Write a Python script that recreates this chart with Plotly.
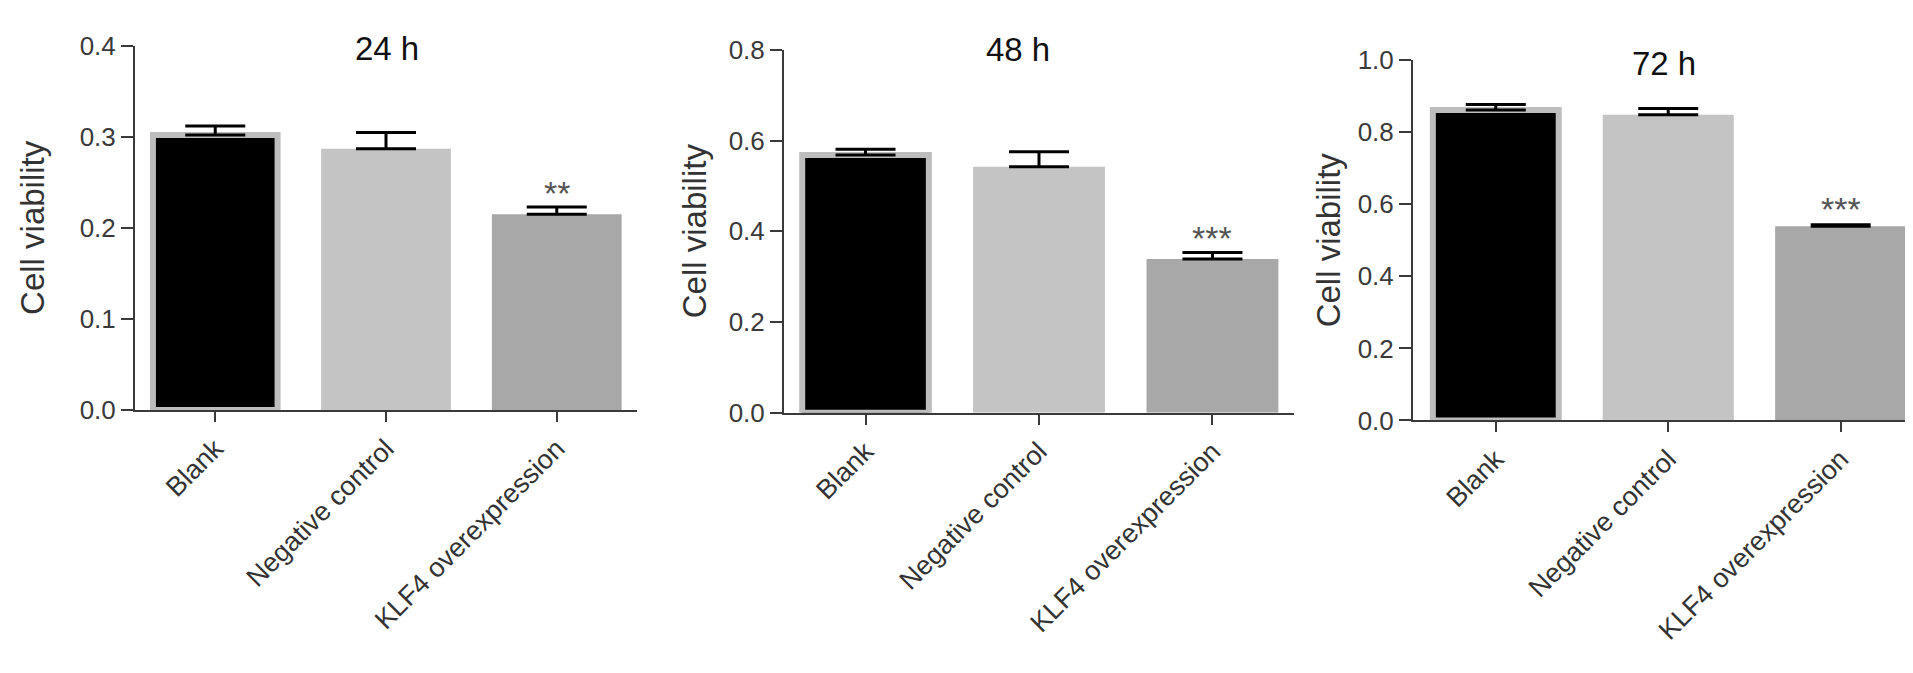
import plotly.graph_objects as go
from plotly.subplots import make_subplots

W, H = 1913, 673

groups = ['Blank', 'Negative control', 'KLF4 overexpression']
bar_colors = ['#000000', '#c4c4c4', '#a8a8a8']

times = ['24 h', '48 h', '72 h']
means_24 = [0.302, 0.287, 0.215]
caps_24 = [0.312, 0.305, 0.223]
means_48 = [0.568, 0.542, 0.339]
caps_48 = [0.581, 0.575, 0.353]
means_72 = [0.862, 0.849, 0.539]
caps_72 = [0.877, 0.866, 0.543]
stars = ['**', '***', '***']
y_max = [0.4, 0.8, 1.0]
y_step = [0.1, 0.2, 0.2]

FONT = 'Arial, Liberation Sans, sans-serif'
AX = '#3a3a3a'

# pixel boxes of the three plot areas: (left, right, top, bottom)
boxes = [(127, 629, 24, 405), (776, 1286, 28, 408), (1405, 1912, 39, 416)]
x_ranges = [[-0.47, 2.47], [-0.47, 2.47], [-0.48, 2.46]]
title_x = [379, 1010, 1656]
title_y = [27, 28, 42]
ylab_x = [25, 686, 1320]
star_y = [0.238, 0.385, 0.586]

series = [(means_24, caps_24), (means_48, caps_48), (means_72, caps_72)]

fig = make_subplots(rows=1, cols=3)
annotations = []
for i, (means, caps) in enumerate(series):
    err = [c - m for c, m in zip(caps, means)]
    fig.add_trace(go.Bar(
        x=[0, 1, 2], y=means, width=[0.73, 0.76, 0.76],
        marker=dict(color=bar_colors,
                    line=dict(color=['#bdbdbd', '#c4c4c4', '#a8a8a8'], width=[6, 0, 0])),
        error_y=dict(type='data', symmetric=False, array=err, arrayminus=[0, 0, 0],
                     color='#000000', thickness=3, width=30),
        showlegend=False,
    ), row=1, col=i + 1)

    l, r, t, b = boxes[i]
    xa = 'xaxis' if i == 0 else f'xaxis{i + 1}'
    ya = 'yaxis' if i == 0 else f'yaxis{i + 1}'
    fig.layout[xa].update(
        domain=[l / W, r / W], range=x_ranges[i], tickmode='array',
        tickvals=[0, 1, 2], ticktext=groups, tickangle=-45,
        showline=True, linecolor=AX, linewidth=2, ticks='outside', ticklen=10,
        tickwidth=2, tickcolor=AX, showgrid=False, zeroline=False,
        tickfont=dict(family=FONT, size=27, color='#333333'),
    )
    fig.layout[ya].update(
        domain=[1 - b / H, 1 - t / H], range=[0, y_max[i]], dtick=y_step[i],
        tick0=0, tickformat='.1f', showline=True, linecolor=AX, linewidth=2,
        ticks='outside', ticklen=12, tickwidth=2, tickcolor=AX, showgrid=False,
        zeroline=False, tickfont=dict(family=FONT, size=26, color='#3a3a3a'),
    )

    annotations.append(dict(text=times[i], x=title_x[i] / W, y=1 - title_y[i] / H,
                            xref='paper', yref='paper', showarrow=False,
                            xanchor='center', yanchor='middle',
                            font=dict(family=FONT, size=33, color='#111111')))
    annotations.append(dict(text='Cell viability', x=ylab_x[i] / W, y=1 - (t + b) / 2 / H,
                            xref='paper', yref='paper', showarrow=False, textangle=-90,
                            xanchor='center', yanchor='middle',
                            font=dict(family=FONT, size=33, color='#333333')))
    annotations.append(dict(text=stars[i], x=2, y=star_y[i],
                            xref='x' if i == 0 else f'x{i + 1}',
                            yref='y' if i == 0 else f'y{i + 1}',
                            showarrow=False, xanchor='center', yanchor='middle',
                            font=dict(family=FONT, size=34, color='#555555')))

fig.update_layout(
    width=W, height=H,
    margin=dict(l=0, r=0, t=0, b=0),
    paper_bgcolor='#ffffff', plot_bgcolor='#ffffff',
    bargap=0.2, annotations=annotations,
)

fig.write_html('out.html')
